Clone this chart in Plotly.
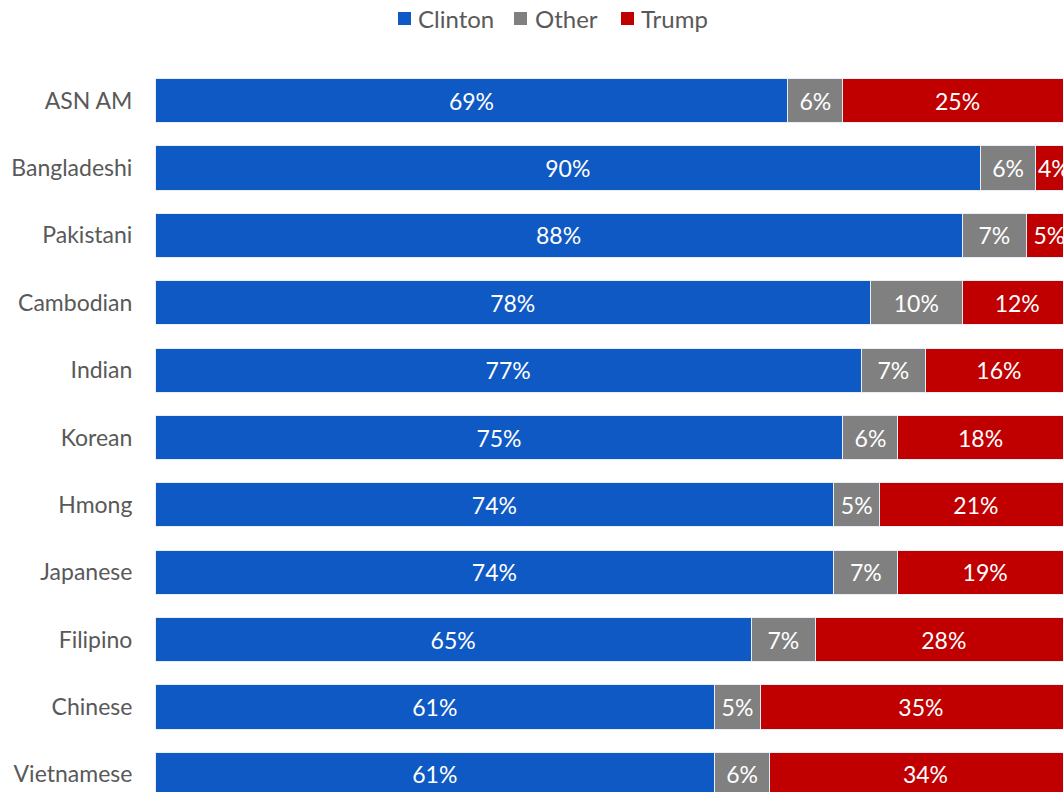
import plotly.graph_objects as go

categories = ["ASN AM", "Bangladeshi", "Pakistani", "Cambodian", "Indian", "Korean",
              "Hmong", "Japanese", "Filipino", "Chinese", "Vietnamese"]
clinton = [69, 90, 88, 78, 77, 75, 74, 74, 65, 61, 61]
other = [6, 6, 7, 10, 7, 6, 5, 7, 7, 5, 6]
trump = [25, 4, 5, 12, 16, 18, 21, 19, 28, 35, 34]

names = ["Clinton", "Other", "Trump"]
colors = ["#0F59C4", "#808080", "#C00000"]
values = [clinton, other, trump]

XMAX = 101.5
W, H = 1086, 808
L, T = 155, 67

fig = go.Figure()
for name, vals, color in zip(names, values, colors):
    fig.add_trace(go.Bar(
        y=categories, x=vals, name=name, orientation="h",
        marker=dict(color=color, line=dict(color="#E8EEF8", width=1)),
        text=[f"{v}%" for v in vals], textposition="inside", insidetextanchor="middle",
        textangle=0,
        textfont=dict(color="white", size=23, family="Lato"),
        constraintext="none", cliponaxis=False, showlegend=False,
    ))

# custom legend (square + label) at top
leg_sq_x = [398, 514, 621]
leg_tx_x = [416, 533, 639]
pw, ph = W - L, H - T
def px(x):
    return (x - L) / pw
def py(y):
    return 1 + (T - y) / ph
for name, color, sx, tx in zip(names, colors, leg_sq_x, leg_tx_x):
    fig.add_shape(type="rect", xref="paper", yref="paper",
                  x0=px(sx), x1=px(sx + 13), y0=py(25), y1=py(12),
                  fillcolor=color, line=dict(width=0))
    fig.add_annotation(text=name, xref="paper", yref="paper", x=px(tx), y=py(18.5),
                       xanchor="left", yanchor="middle", showarrow=False,
                       font=dict(size=24, color="#595959", family="Lato"))

fig.update_layout(
    barmode="stack", bargap=0.345,
    width=W, height=H,
    margin=dict(l=L, r=0, t=T, b=0),
    paper_bgcolor="white", plot_bgcolor="white",
    font=dict(family="Lato", size=23, color="#595959"),
    uniformtext=dict(mode="show", minsize=23),
    showlegend=False,
)
fig.update_xaxes(range=[0, XMAX], visible=False, fixedrange=True)
fig.update_yaxes(type="category", autorange="reversed", showgrid=False, showline=False,
                 ticks="outside", ticklen=17, tickcolor="rgba(0,0,0,0)", fixedrange=True,
                 tickfont=dict(size=23, color="#595959", family="Lato"))

fig.write_html("out.html", config={"displayModeBar": False},
               post_script="document.body.style.margin='0';document.body.style.overflow='hidden';document.documentElement.style.overflow='hidden';")
